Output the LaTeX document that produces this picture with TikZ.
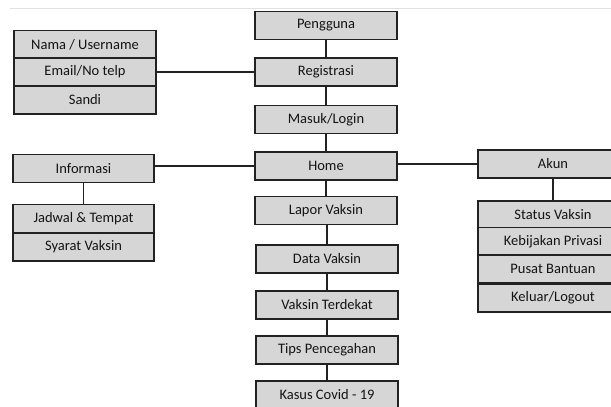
\documentclass[tikz,border=0pt]{standalone}
\usepackage{fontspec}
\setmainfont{Carlito}
\definecolor{boxfill}{HTML}{D6D6D6}
\definecolor{boxline}{HTML}{222222}
\definecolor{txt}{HTML}{141414}
\begin{document}
\begin{tikzpicture}[x=1pt,y=-1pt,
  box/.style={draw=boxline, fill=boxfill, line width=1.5pt, text=txt,
    minimum width=142pt, minimum height=28pt, inner sep=0pt,
    font=\fontsize{14.5}{16}\selectfont},
  link/.style={draw=boxline, line width=1.6pt}]
\useasboundingbox (0,0) rectangle (611,407);
\clip (0,0) rectangle (611,407);
\draw[draw=black!12, line width=0.8pt] (10,8) -- (611,8);
% main column
\node[box] (peng) at (326,25.5) {Pengguna};
\node[box] (reg) at (326,72) {Registrasi};
\node[box] (login) at (326,119.5) {Masuk/Login};
\node[box] (home) at (326,166) {Home};
\node[box] (lapor) at (326,210.5) {Lapor Vaksin};
\node[box] (data) at (327,259) {Data Vaksin};
\node[box] (terdekat) at (327,305) {Vaksin Terdekat};
\node[box] (tips) at (327,350) {Tips Pencegahan};
\node[box] (kasus) at (327,395) {Kasus Covid - 19};
% registration fields
\node[box] (nama) at (85,44.5) {Nama / Username};
\node[box] (email) at (85,72) {Email/No telp};
\node[box] (sandi) at (85,100) {Sandi};
% information
\node[box, minimum width=141pt] (info) at (83.5,168.5) {Informasi};
\node[box, minimum width=141pt] (jadwal) at (83.5,218.5) {Jadwal \& Tempat};
\node[box, minimum width=141pt] (syarat) at (83.5,247) {Syarat Vaksin};
% account
\node[box, minimum width=150pt] (akun) at (553,164) {Akun};
\node[box, minimum width=150pt] (status) at (553,215) {Status Vaksin};
\node[box, minimum width=150pt] (privasi) at (553,241.5) {Kebijakan Privasi};
\node[box, minimum width=150pt] (bantuan) at (553,269) {Pusat Bantuan};
\node[box, minimum width=150pt] (logout) at (553,298) {Keluar/Logout};
% connectors
\draw[link] (peng) -- (reg);
\draw[link] (reg) -- (login);
\draw[link] (login) -- (home);
\draw[link] (home) -- (lapor);
\draw[link] (lapor.south -| data.north) -- (data.north);
\draw[link] (data) -- (terdekat);
\draw[link] (terdekat) -- (tips);
\draw[link] (tips) -- (kasus);
\draw[link] (email.east) -- (email.east -| reg.west);
\draw[link] (home.west) -- (home.west -| info.east);
\draw[link] (akun.west) -- (akun.west -| home.east);
\draw[link] (info) -- (jadwal);
\draw[link] (akun) -- (status);
\end{tikzpicture}
\end{document}
